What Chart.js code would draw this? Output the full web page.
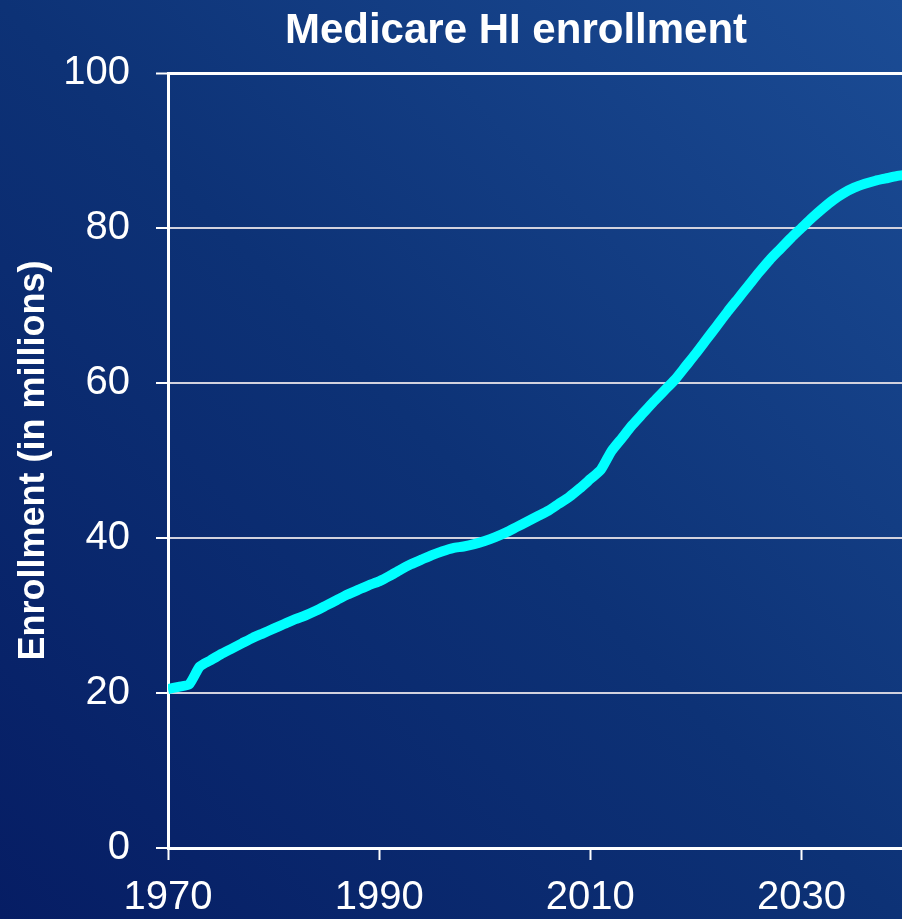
<!DOCTYPE html>
<html>
<head>
<meta charset="utf-8">
<title>Medicare HI enrollment</title>
<script src="https://cdn.jsdelivr.net/npm/chart.js@4.4.1/dist/chart.umd.min.js"></script>
<style>
  html, body { margin: 0; padding: 0; overflow: hidden; }
  body {
    width: 902px;
    height: 919px;
    background: linear-gradient(to top right, #061d64 0%, #0d3276 50%, #1b4c95 100%);
  }
  canvas { display: block; }
</style>
</head>
<body>
<canvas id="myChart" width="910" height="919"></canvas>
<script>
const chartTitle = 'Medicare HI enrollment';
const yAxisTitle = 'Enrollment (in millions)';

const years = [
  1970, 1971, 1972, 1973, 1974, 1975, 1976, 1977, 1978, 1979,
  1980, 1981, 1982, 1983, 1984, 1985, 1986, 1987, 1988, 1989,
  1990, 1991, 1992, 1993, 1994, 1995, 1996, 1997, 1998, 1999,
  2000, 2001, 2002, 2003, 2004, 2005, 2006, 2007, 2008, 2009,
  2010, 2011, 2012, 2013, 2014, 2015, 2016, 2017, 2018, 2019,
  2020, 2021, 2022, 2023, 2024, 2025, 2026, 2027, 2028, 2029,
  2030, 2031, 2032, 2033, 2034, 2035, 2036, 2037, 2038, 2039,
  2040
];

// enrollment in millions
const enrollment = [
  20.5, 20.8, 21.1, 23.4, 24.2, 25.0, 25.7, 26.4, 27.1, 27.7,
  28.3, 28.9, 29.5, 30.0, 30.6, 31.3, 32.0, 32.7, 33.3, 33.9,
  34.4, 35.1, 35.9, 36.6, 37.2, 37.8, 38.3, 38.7, 38.9, 39.2,
  39.6, 40.1, 40.7, 41.4, 42.1, 42.8, 43.5, 44.4, 45.3, 46.4,
  47.6, 48.8, 51.2, 52.9, 54.6, 56.1, 57.6, 59.0, 60.4, 62.1,
  63.8, 65.6, 67.4, 69.2, 70.9, 72.6, 74.3, 75.9, 77.3, 78.7,
  80.0, 81.3, 82.5, 83.6, 84.5, 85.2, 85.7, 86.1, 86.4, 86.7,
  86.9
];

const xTickYears = [1970, 1990, 2010, 2030];
const yTickValues = [0, 20, 40, 60, 80, 100];

const FONT = "'Liberation Sans', Arial, sans-serif";

Chart.defaults.font.family = FONT;
Chart.defaults.color = '#ffffff';

// title drawn by hand so it can sit where the slide had it
const slideTitle = {
  id: 'slideTitle',
  afterDraw(chart) {
    const ctx = chart.ctx;
    ctx.save();
    ctx.font = `bold 42px ${FONT}`;
    ctx.fillStyle = '#ffffff';
    ctx.textAlign = 'center';
    ctx.textBaseline = 'alphabetic';
    ctx.fillText(chartTitle, 516, 43);
    ctx.restore();
  }
};

let myChart;

const setup = () => {
  const ctxt = document.getElementById('myChart').getContext('2d');

  myChart = new Chart(ctxt, {
    type: 'line',
    data: {
      datasets: [{
        label: chartTitle,
        data: years.map((y, i) => ({ x: y, y: enrollment[i] })),
        borderColor: '#00ffff',
        borderWidth: 10,
        borderJoinStyle: 'round',
        pointRadius: 0,
        tension: 0.2,
        fill: false
      }]
    },
    options: {
      responsive: false,
      animation: false,
      layout: { padding: { left: 8, top: 73, right: 3, bottom: 0 } },
      plugins: {
        legend: { display: false },
        tooltip: { enabled: false }
      },
      scales: {
        x: {
          type: 'linear',
          min: 1970,
          max: 2040,
          afterBuildTicks: (axis) => { axis.ticks = xTickYears.map(v => ({ value: v })); },
          afterFit: (scale) => { scale.height = 71; },
          grid: {
            drawOnChartArea: false,
            tickLength: 12,
            tickColor: '#ffffff',
            tickWidth: 2
          },
          border: { color: '#ffffff', width: 3 },
          ticks: {
            color: '#ffffff',
            font: { size: 40 },
            padding: 14,
            maxRotation: 0,
            autoSkip: false,
            callback: (v) => String(v)
          }
        },
        y: {
          min: 0,
          max: 100,
          afterBuildTicks: (axis) => { axis.ticks = yTickValues.map(v => ({ value: v })); },
          afterFit: (scale) => { scale.width = 160; },
          grid: {
            color: (c) => c.tick && c.tick.value === 100 ? '#ffffff' : '#d2d2de',
            lineWidth: (c) => c.tick && c.tick.value === 100 ? 3 : 2,
            tickLength: 12,
            tickColor: '#ffffff',
            tickWidth: 2
          },
          border: { color: '#ffffff', width: 3 },
          ticks: {
            color: '#ffffff',
            font: { size: 40 },
            padding: 26
          },
          title: {
            display: true,
            text: yAxisTitle,
            color: '#ffffff',
            font: { size: 36, weight: 'bold' },
            padding: { top: 4, bottom: 0 }
          }
        }
      }
    },
    plugins: [slideTitle]
  });
}

window.addEventListener('DOMContentLoaded', setup);
</script>
</body>
</html>
